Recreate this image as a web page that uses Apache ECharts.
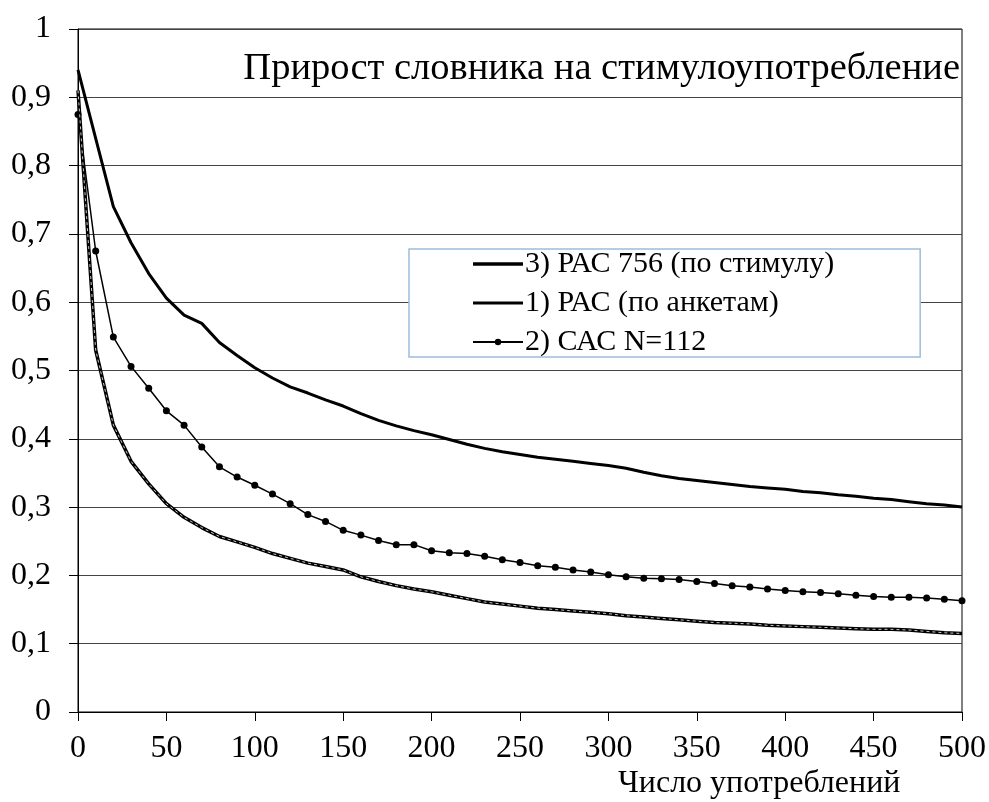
<!DOCTYPE html>
<html>
<head>
<meta charset="utf-8">
<script src="https://cdn.jsdelivr.net/npm/echarts@6/dist/echarts.min.js"></script>
<style>
html,body{margin:0;padding:0;background:#fff;}
#chart{width:989px;height:802px;}
</style>
</head>
<body>
<div id="chart"></div>
<script>
const xValues = [0,10,20,30,40,50,60,70,80,90,100,110,120,130,140,150,160,170,180,190,200,210,220,230,240,250,260,270,280,290,300,310,320,330,340,350,360,370,380,390,400,410,420,430,440,450,460,470,480,490,500];

const seriesNames = ['3) РАС 756 (по стимулу)', '1) РАС (по анкетам)', '2) САС N=112'];

const pac756 = [0.91,0.53,0.42,0.367,0.334,0.305,0.285,0.270,0.257,0.249,0.241,0.232,0.225,0.218,0.213,0.208,0.198,0.191,0.185,0.180,0.176,0.171,0.166,0.161,0.158,0.155,0.152,0.150,0.148,0.146,0.144,0.141,0.139,0.137,0.135,0.133,0.131,0.130,0.129,0.127,0.126,0.125,0.124,0.123,0.122,0.121,0.121,0.120,0.118,0.116,0.115];

const pacSurvey = [0.94,0.84,0.74,0.687,0.642,0.606,0.581,0.569,0.541,0.522,0.504,0.489,0.476,0.467,0.457,0.448,0.437,0.427,0.419,0.412,0.406,0.399,0.392,0.386,0.381,0.377,0.373,0.370,0.367,0.364,0.361,0.357,0.351,0.346,0.342,0.339,0.336,0.333,0.330,0.328,0.326,0.323,0.321,0.318,0.316,0.313,0.311,0.308,0.305,0.303,0.300];

const sasN112 = [0.875,0.675,0.549,0.506,0.474,0.441,0.420,0.388,0.359,0.344,0.332,0.319,0.305,0.289,0.279,0.266,0.259,0.251,0.245,0.245,0.236,0.233,0.232,0.228,0.223,0.219,0.214,0.212,0.208,0.205,0.201,0.198,0.196,0.195,0.194,0.191,0.188,0.185,0.183,0.180,0.178,0.176,0.175,0.173,0.171,0.169,0.168,0.168,0.167,0.165,0.163];

const yTicks = ['0','0,1','0,2','0,3','0,4','0,5','0,6','0,7','0,8','0,9','1'];
const xTickLabels = ['0','50','100','150','200','250','300','350','400','450','500'];

const chartTitle = 'Прирост словника на стимулоупотребление';
const xAxisName = 'Число употреблений';

function pairs(ys){ return xValues.map((x,i)=>[x, ys[i]]); }

const FONT = "'Liberation Serif','Times New Roman',serif";
const chart = echarts.init(document.getElementById('chart'));
chart.setOption({
  animation: false,
  backgroundColor: '#fff',
  title: [
    { text: chartTitle, right: 29, top: 49, padding: 0,
      textStyle: { fontFamily: FONT, fontSize: 38.5, fontWeight: 'normal', color: '#000' } },
    { text: xAxisName, left: 618, top: 768, padding: 0,
      textStyle: { fontFamily: FONT, fontSize: 32, fontWeight: 'normal', color: '#000' } }
  ],
  grid: { left: 78, right: 26, top: 29, bottom: 90, show: true, borderColor: '#000', borderWidth: 1, backgroundColor: 'transparent' },
  legend: {
    data: [
      { name: seriesNames[0], icon: 'path://M0 0H50V3.5H0Z' },
      { name: seriesNames[1], icon: 'path://M0 0H50V3H0Z' },
      { name: seriesNames[2] }
    ],
    orient: 'vertical',
    left: 409, top: 249,
    padding: [0, 86, 0, 63],
    itemGap: 9,
    itemWidth: 50, itemHeight: 8,
    backgroundColor: '#fff',
    borderColor: '#9fbbdc', borderWidth: 1.5,
    textStyle: { fontFamily: FONT, fontSize: 30, color: '#000', lineHeight: 30, padding: [0,0,0,-3] }
  },
  xAxis: {
    type: 'value', min: 0, max: 500, interval: 50,
    axisLine: { show: true, lineStyle: { color: '#000', width: 1 } },
    axisTick: { show: true, inside: false, length: 9, lineStyle: { color: '#000' } },
    axisLabel: { margin: 21, fontFamily: FONT, fontSize: 32, color: '#000',
      formatter: (v) => xTickLabels[Math.round(v/50)] },
    splitLine: { show: false }
  },
  yAxis: {
    type: 'value', min: 0, max: 1, interval: 0.1,
    axisLine: { show: true, lineStyle: { color: '#000', width: 1 } },
    axisTick: { show: true, inside: false, length: 9, lineStyle: { color: '#000' } },
    axisLabel: { margin: 27, fontFamily: FONT, fontSize: 32, color: '#000',
      formatter: (v) => yTicks[Math.round(v*10)] },
    splitLine: { show: true, lineStyle: { color: '#444', width: 1 } }
  },
  series: [
    { name: seriesNames[0], type: 'line', data: pairs(pac756), symbol: 'none', z: 3,
      lineStyle: { color: '#000', width: 3.5 }, itemStyle: { color: '#000' } },
    { name: 'overlay', type: 'line', data: pairs(pac756), symbol: 'none', silent: true, z: 4,
      lineStyle: { color: '#c8c8c8', width: 1, type: [3,3] }, itemStyle: { color: '#c8c8c8' } },
    { name: seriesNames[1], type: 'line', data: pairs(pacSurvey), symbol: 'none', z: 3,
      lineStyle: { color: '#000', width: 3 }, itemStyle: { color: '#000' } },
    { name: seriesNames[2], type: 'line', data: pairs(sasN112), symbol: 'circle', symbolSize: 7, showSymbol: true, z: 3,
      lineStyle: { color: '#000', width: 1.5 }, itemStyle: { color: '#000' } }
  ]
});
</script>
</body>
</html>
